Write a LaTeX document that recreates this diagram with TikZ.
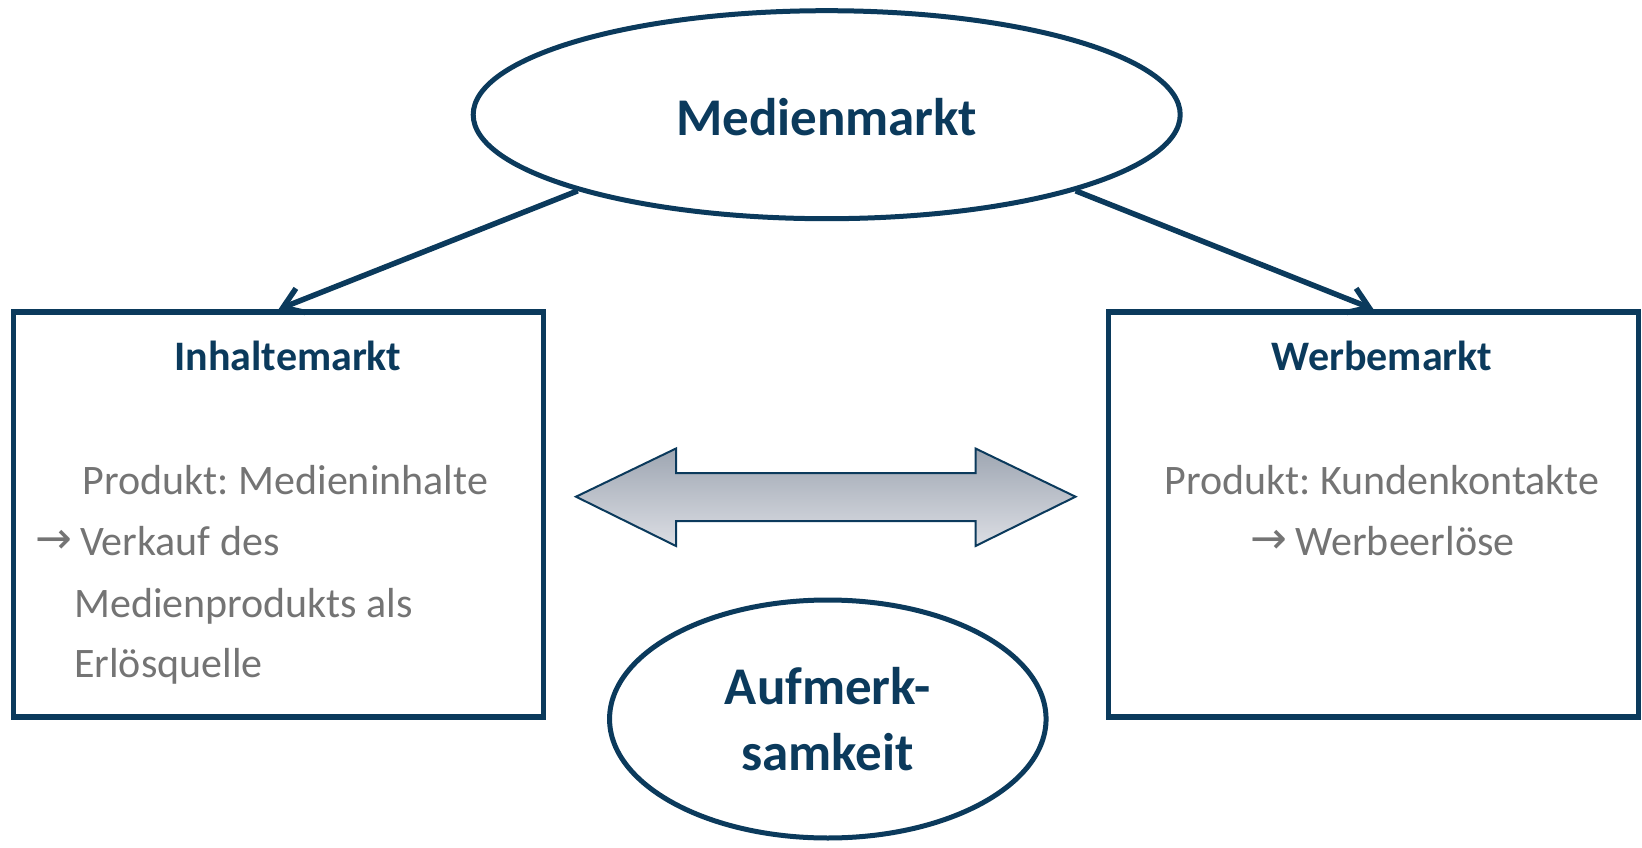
\documentclass[tikz,border=0pt]{standalone}
\usepackage{fontspec}
\setmainfont{Carlito}
\newfontfamily\symfont{DejaVu Sans}
\usetikzlibrary{shapes.geometric,arrows.meta}
\definecolor{navy}{HTML}{0B3A5C}
\definecolor{txtgray}{HTML}{747474}
\definecolor{shtop}{RGB}{158,166,178}
\definecolor{shbot}{RGB}{220,222,228}
\frenchspacing
\newcommand{\rarr}{\raisebox{2pt}{\symfont\fontsize{44}{50}\selectfont →}}
\begin{document}
\begin{tikzpicture}[x=1pt,y=-1pt,
  oval/.style={ellipse, draw=navy, line width=5pt, inner sep=0pt, text=navy,
    font=\bfseries\fontsize{53}{66}\selectfont, align=center},
  market/.style={rectangle, draw=navy, line width=5.5pt, minimum width=530pt,
    minimum height=405pt, inner sep=0pt},
  title/.style={anchor=base, text=navy, font=\bfseries\fontsize{42}{50}\selectfont, inner sep=0pt},
  bigtitle/.style={anchor=base, text=navy, font=\bfseries\fontsize{53}{66}\selectfont, inner sep=0pt},
  body/.style={text=txtgray, font=\fontsize{42}{50}\selectfont, inner sep=0pt},
  conn/.style={draw=navy, line width=5.5pt, -{Straight Barb[length=19pt,width=26pt]}},
  dbl/.style={draw=navy, line width=2pt, top color=shtop, bottom color=shbot},
]
\useasboundingbox (0,0) rectangle (1642,848);
% top ellipse
\node[oval, minimum width=707pt, minimum height=208pt] (med) at (826.7,114.7) {};
\node[bigtitle] (medt) at (826.7,136) {Medienmarkt};
% boxes
\node[market] (inh) at (278.5,514.5) {};
\node[market] (wer) at (1373.5,514.5) {};
% titles
\node[title] (inht) at (288,370.7) {Inhaltemarkt};
\node[title] (wert) at (1382,370.7) {Werbemarkt};
% left body text
\node[body, anchor=base west] (l1) at (82.7,494) {Produkt: Medieninhalte};
\node[body, anchor=base west] (l2) at (35,555) {\rarr\hspace{8pt}Verkauf des};
\node[body, anchor=base west] (l3) at (74,617) {Medienprodukts als};
\node[body, anchor=base west] (l4) at (74,677) {Erlösquelle};
% right body text
\node[body, anchor=base] (r1) at (1382,494) {Produkt: Kundenkontakte};
\node[body, anchor=base] (r2) at (1382.6,555) {\rarr\hspace{8pt}Werbeerlöse};
% connectors
\draw[conn] (med.197) -- (inh.north);
\draw[conn] (med.-17) -- (wer.north);
% double arrow
\path[dbl] (576,496.7) -- (676,448.5) -- (676,473) -- (975.5,473) -- (975.5,448.5)
  -- (1075.5,496.7) -- (975.5,546) -- (975.5,521) -- (676,521) -- (676,546) -- cycle;
% bottom ellipse
\node[oval, minimum width=436.5pt, minimum height=238pt] (auf) at (827.8,719) {Aufmerk-\\samkeit};
\end{tikzpicture}
\end{document}
